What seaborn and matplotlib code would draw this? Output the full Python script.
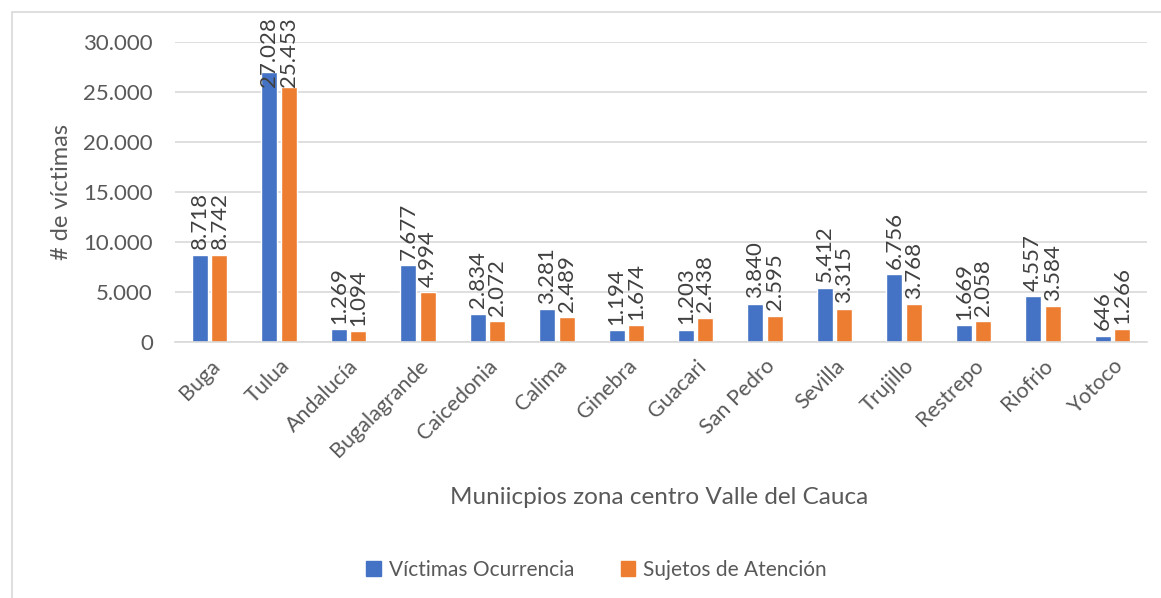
import pandas as pd
import numpy as np
import matplotlib.pyplot as plt
import seaborn as sns
from matplotlib.patches import Rectangle

municipios = ['Buga', 'Tulua', 'Andalucía', 'Bugalagrande', 'Caicedonia', 'Calima',
              'Ginebra', 'Guacari', 'San Pedro', 'Sevilla', 'Trujillo', 'Restrepo',
              'Riofrio', 'Yotoco']
victimas_ocurrencia = [8718, 27028, 1269, 7677, 2834, 3281, 1194, 1203, 3840, 5412, 6756, 1669, 4557, 646]
sujetos_atencion = [8742, 25453, 1094, 4994, 2072, 2489, 1674, 2438, 2595, 3315, 3768, 2058, 3584, 1266]
series = ['Víctimas Ocurrencia', 'Sujetos de Atención']
colores = ['#4472C4', '#ED7D31']
y_ticks = [0, 5000, 10000, 15000, 20000, 25000, 30000]

def miles(v):
    return f"{int(v):,}".replace(",", ".")

df = pd.DataFrame({
    'Municipio': municipios * 2,
    'Serie': [series[0]] * len(municipios) + [series[1]] * len(municipios),
    'Valor': victimas_ocurrencia + sujetos_atencion,
})

sns.set_style('white')
plt.rcParams['font.family'] = ['Lato', 'DejaVu Sans']
gris = '#595959'

fig = plt.figure(figsize=(11.61, 5.98), dpi=100)
# chart frame
fig.patches.append(Rectangle((12 / 1161, -0.1), 1.2, (598 - 12) / 598 + 0.1,
                             transform=fig.transFigure, fill=False,
                             edgecolor='#D9D9D9', linewidth=1.2))
ax = fig.add_axes([175 / 1161, 1 - 342 / 598, 972 / 1161, 300 / 598])

sns.barplot(data=df, x='Municipio', y='Valor', hue='Serie', palette=colores,
            saturation=1, width=0.56, gap=0.18, ax=ax, legend=False)

ax.set_ylim(0, 30000)
ax.set_xlim(-0.5, len(municipios) - 0.5)
ax.set_yticks(y_ticks)
ax.set_yticklabels([miles(t) for t in y_ticks], fontsize=16, color=gris)
ax.yaxis.grid(True, color='#D9D9D9', linewidth=1.2)
ax.set_axisbelow(True)
for s in ['top', 'right', 'left']:
    ax.spines[s].set_visible(False)
ax.spines['bottom'].set_color('#D9D9D9')
ax.spines['bottom'].set_linewidth(1.2)
ax.tick_params(axis='both', length=0)
ax.tick_params(axis='y', pad=16)
ax.set_xticks(range(len(municipios)))
ax.set_xticklabels(municipios, rotation=45, ha='right', rotation_mode='anchor',
                   fontsize=15.5, color=gris)
ax.tick_params(axis='x', pad=10)
ax.set_ylabel('# de víctimas', fontsize=17, color=gris, labelpad=8)
ax.set_xlabel('')
fig.text(0.568, 1 - 497 / 598, 'Muniicpios zona centro Valle del Cauca',
         fontsize=17.5, color=gris, ha='center', va='center')

for cont in ax.containers:
    labels = ax.bar_label(cont, labels=[miles(b.get_height()) for b in cont],
                          rotation=90, padding=4, fontsize=16, color='#404040')
    fig.canvas.draw()
    for t in labels:
        bb = t.get_window_extent()
        top_lim = fig.bbox.height - 17
        if bb.y1 > top_lim:
            x, y = t.xyann
            t.xyann = (x, y - (bb.y1 - top_lim) * 72 / fig.dpi)

handles = [Rectangle((0, 0), 1, 1, color=c) for c in colores]
fig.legend(handles, series, loc='center', bbox_to_anchor=(0.514, 1 - 570 / 598),
           ncol=2, frameon=False, fontsize=15, handlelength=0.7, handleheight=0.7,
           handletextpad=0.4, columnspacing=2.2, labelcolor=gris)

fig.savefig('out.png', dpi=100)
plt.close(fig)
